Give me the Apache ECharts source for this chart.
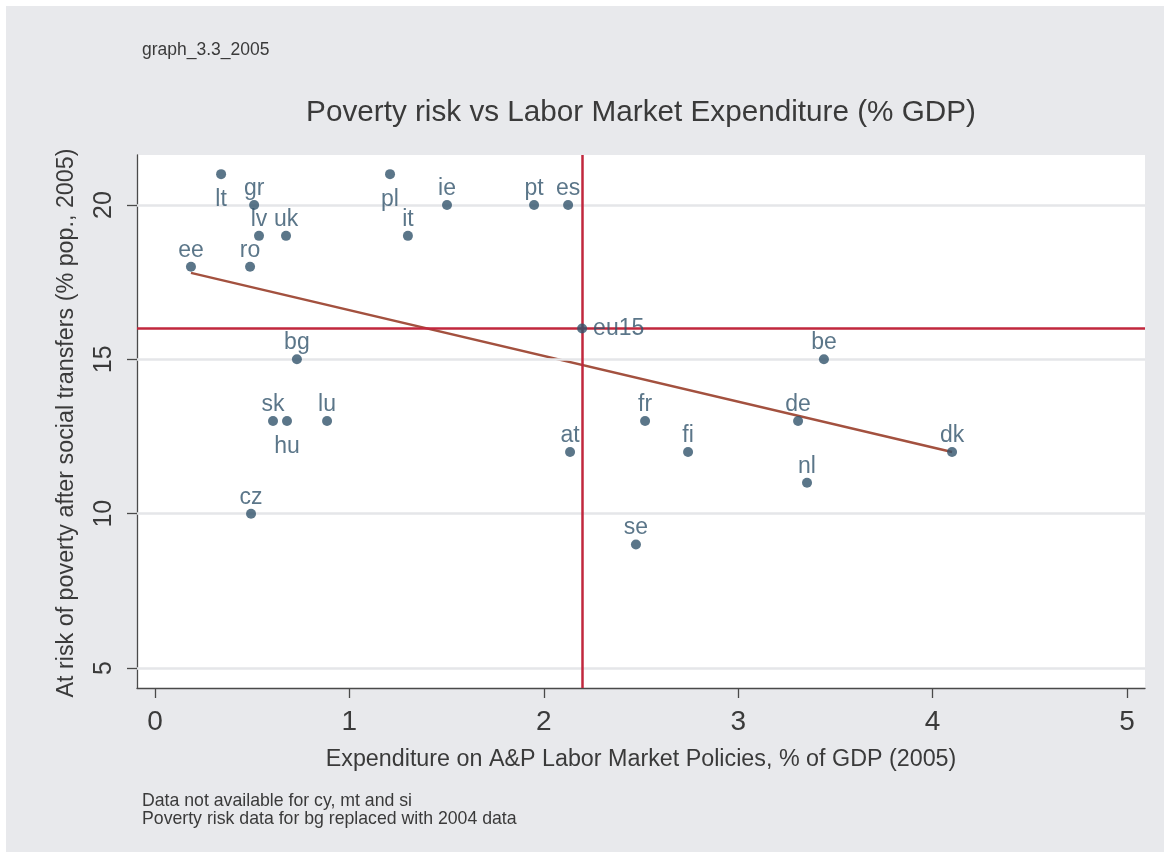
<!DOCTYPE html>
<html>
<head>
<meta charset="utf-8">
<script src="https://cdn.jsdelivr.net/npm/echarts@6/dist/echarts.min.js"></script>
<style>
html,body{margin:0;padding:0;background:#fff;}
#chart{width:1170px;height:859px;}
</style>
</head>
<body>
<div id="chart"></div>
<script>
// ---- data ----
const countries = ['lt','gr','lv','uk','ee','ro','pl','it','ie','pt','es','eu15','bg','sk','hu','lu','cz','at','fr','fi','se','de','nl','be','dk'];
const expenditure = [0.34,0.51,0.535,0.674,0.185,0.489,1.209,1.301,1.502,1.95,2.125,2.197,0.73,0.607,0.679,0.885,0.494,2.135,2.521,2.742,2.474,3.308,3.354,3.441,4.10];
const povertyRisk = [21,20,19,19,18,18,21,19,20,20,20,16,15,13,13,13,10,12,13,12,9,13,11,15,12];
const labelBelow = ['lt','pl','hu'];
const labelRight = ['eu15'];
const fitX = [0.185, 4.10];
const fitY = [17.80, 12.00];
const refX = 2.197;   // eu15 expenditure
const refY = 16;      // eu15 poverty risk
const xTicks = [0,1,2,3,4,5];
const yTicks = [5,10,15,20];

const titleText = 'Poverty risk vs Labor Market Expenditure (% GDP)';
const xTitle = 'Expenditure on A&P Labor Market Policies, % of GDP (2005)';
const yTitle = 'At risk of poverty after social transfers (% pop., 2005)';
const topNote = 'graph_3.3_2005';
const notes = 'Data not available for cy, mt and si\nPoverty risk data for bg replaced with 2004 data';

// ---- chart ----
const FONT = '"Liberation Sans", Arial, Helvetica, sans-serif';
const pointColor = '#32546b';
const refColor = '#c1273d';
const fitColor = '#a3513f';
const gridColor = '#e5e6e9';
const textColor = '#3a3a3a';

const scatterData = countries.map((c, i) => {
  const item = { value: [expenditure[i], povertyRisk[i]], name: c };
  if (labelBelow.includes(c)) {
    item.label = { position: 'bottom', distance: 9 };
  } else if (labelRight.includes(c)) {
    item.label = { position: 'right', distance: 6, offset: [0, -12] };
  }
  return item;
});

const chart = echarts.init(document.getElementById('chart'), null, { renderer: 'canvas' });
chart.setOption({
  backgroundColor: '#ffffff',
  animation: false,
  textStyle: { fontFamily: FONT },
  graphic: [
    { type: 'rect', z: -10, silent: true, shape: { x: 6, y: 6, width: 1158, height: 846 }, style: { fill: '#e8e9ec' } },
    { type: 'text', left: 142, top: 41, style: { text: topNote, font: '17.5px ' + FONT, fill: textColor } },
    { type: 'text', x: 641, y: 113, style: { text: titleText, font: '29.7px ' + FONT, fill: textColor, align: 'center', verticalAlign: 'middle' } },
    { type: 'text', x: 641, y: 760, style: { text: xTitle, font: '23.3px ' + FONT, fill: textColor, align: 'center', verticalAlign: 'middle' } },
    { type: 'text', x: 67, y: 423, rotation: Math.PI / 2, style: { text: yTitle, font: '23.3px ' + FONT, fill: textColor, align: 'center', verticalAlign: 'middle' } },
    { type: 'text', left: 142, top: 792, style: { text: notes, font: '17.7px ' + FONT, fill: textColor, lineHeight: 18 } }
  ],
  grid: {
    left: 137, right: 25, top: 155, bottom: 171,
    show: true, backgroundColor: '#ffffff', borderWidth: 0,
    containLabel: false
  },
  xAxis: {
    type: 'value',
    min: -18 / 194.4,
    max: 990 / 194.4,
    axisLine: { show: true, onZero: false, lineStyle: { color: '#4a4a4a', width: 1.3 } },
    axisTick: { show: true, length: 10, customValues: xTicks, lineStyle: { color: '#4a4a4a', width: 1.3 } },
    axisLabel: { show: true, customValues: xTicks, fontSize: 28, color: textColor, margin: 20, fontFamily: FONT },
    splitLine: { show: false }
  },
  yAxis: {
    type: 'value',
    min: 5 - 20 / 30.867,
    max: 20 + 50 / 30.867,
    axisLine: { show: true, onZero: false, lineStyle: { color: '#4a4a4a', width: 1.3 } },
    axisTick: { show: true, length: 10, customValues: yTicks, lineStyle: { color: '#4a4a4a', width: 1.3 } },
    axisLabel: { show: true, customValues: yTicks, fontSize: 25, color: textColor, margin: 20, rotate: 90, fontFamily: FONT },
    splitLine: { show: false }
  },
  series: [
    {
      type: 'line', data: [], z: 1, silent: true,
      markLine: {
        silent: true, symbol: ['none', 'none'], label: { show: false }, animation: false,
        lineStyle: { color: gridColor, width: 2.5, type: 'solid' },
        data: yTicks.map(v => ({ yAxis: v }))
      }
    },
    {
      type: 'line', data: [], z: 3, silent: true,
      markLine: {
        silent: true, symbol: ['none', 'none'], label: { show: false }, animation: false,
        lineStyle: { color: refColor, width: 2.5, type: 'solid' },
        data: [{ yAxis: refY }, { xAxis: refX }]
      }
    },
    {
      type: 'line', z: 4, silent: true, showSymbol: false, symbol: 'none',
      lineStyle: { color: fitColor, width: 2.5 },
      data: fitX.map((x, i) => [x, fitY[i]])
    },
    {
      type: 'scatter', z: 5, symbol: 'circle', symbolSize: 10,
      itemStyle: { color: pointColor },
      label: {
        show: true, position: 'top', distance: 0,
        formatter: p => p.name,
        fontSize: 23, color: pointColor, fontFamily: FONT
      },
      labelLayout: { hideOverlap: false },
      data: scatterData
    }
  ]
});
</script>
</body>
</html>
